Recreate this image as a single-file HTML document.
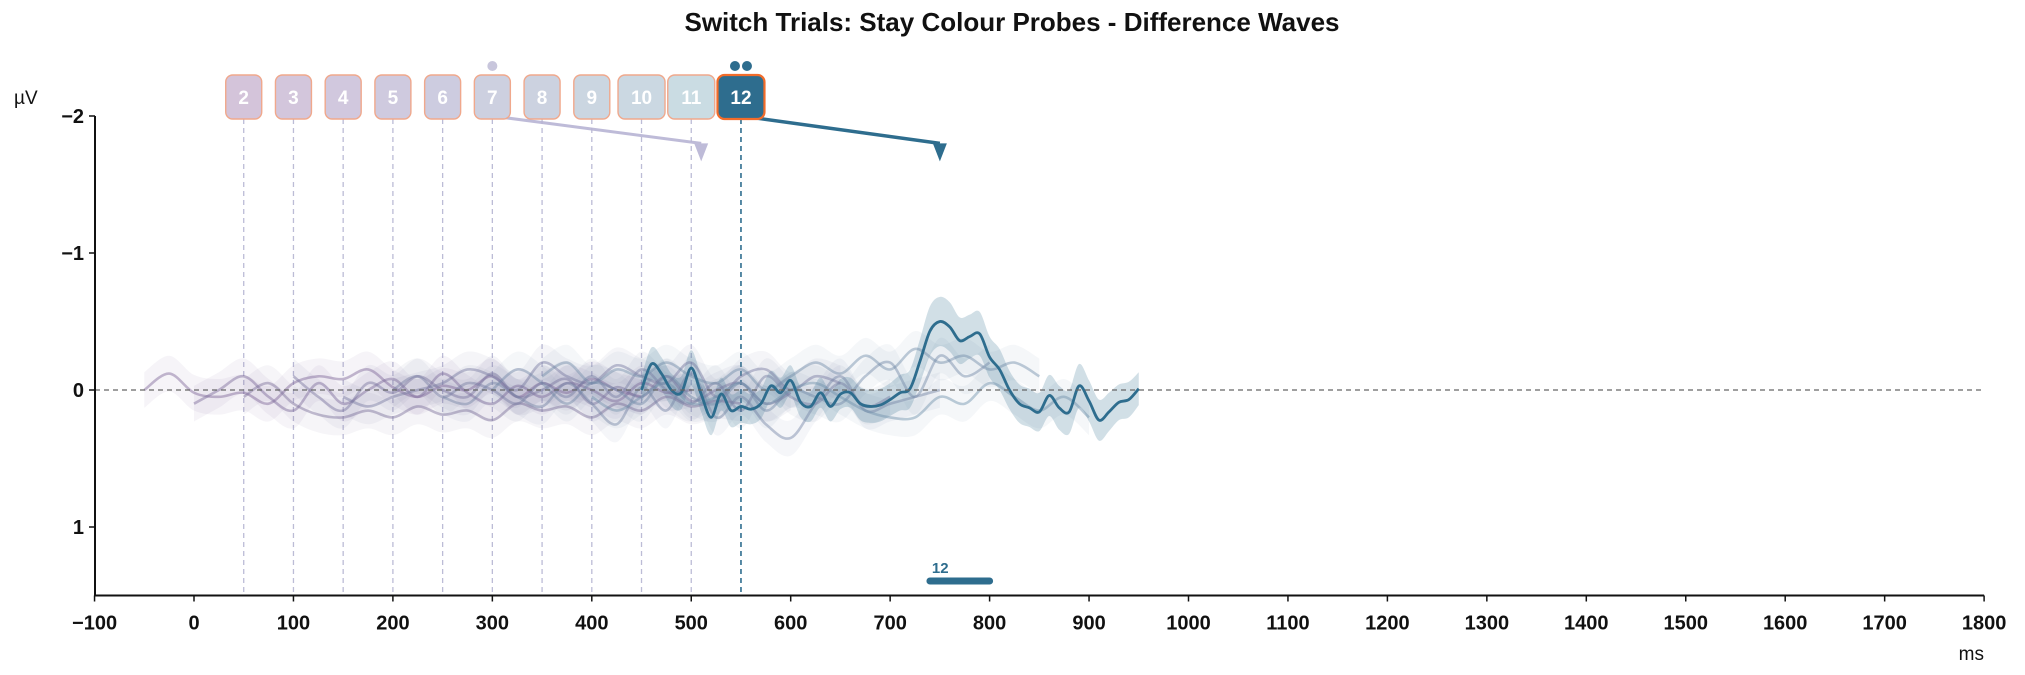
<!DOCTYPE html>
<html><head><meta charset="utf-8"><style>
html,body{margin:0;padding:0;background:#fff;}
svg{display:block;font-family:"Liberation Sans",Arial,sans-serif;}
</style></head><body>
<svg id="chart" width="2025" height="675" viewBox="0 0 2025 675" xmlns="http://www.w3.org/2000/svg">
<text x="1012" y="31" text-anchor="middle" font-size="26" font-weight="bold" fill="#111">Switch Trials: Stay Colour Probes - Difference Waves</text>
<g id="bands"></g><g id="lines"></g><g id="overlay"></g>
</svg>
<script>
const lags = [2,3,4,5,6,7,8,9,10,11,12];
const lagOnsets = [50,100,150,200,250,300,350,400,450,500,550];
const xTicks = [-100,0,100,200,300,400,500,600,700,800,900,1000,1100,1200,1300,1400,1500,1600,1700,1800];
const yTicks = [-2,-1,0,1];
const yTickLabels = ["\u22122","\u22121","0","1"];
// faint series (lags 2..11), 25 ms steps over 500 ms, starting at (lag-3)*50
const faint2 = [0.0,-0.12,0.02,0.05,0.02,0.1,-0.05,-0.1,-0.08,-0.15,-0.02,0.05,-0.03,0.0,-0.1,0.05,-0.05,0.02,-0.08,0.0,0.05];
const faint3 = [0.1,0.0,-0.1,0.05,0.15,-0.05,0.1,0.0,-0.08,0.05,-0.12,0.02,0.1,-0.03,0.05,-0.05,0.0,0.08,-0.05,0.02,0.0];
const faint4 = [0.05,-0.05,0.1,0.18,0.2,0.15,0.2,0.12,0.18,0.15,0.22,0.1,0.15,0.12,0.2,0.1,0.15,0.05,0.12,0.08,0.1];
const faint5 = [-0.1,0.05,0.15,-0.05,0.02,-0.1,0.0,0.05,-0.12,0.05,0.0,-0.08,0.1,-0.02,0.05,-0.1,0.08,0.0,-0.05,0.1,0.02];
const faint6 = [0.05,0.12,0.05,0.0,-0.05,-0.15,-0.1,0.0,-0.2,-0.1,-0.05,-0.18,-0.1,-0.05,-0.2,0.05,-0.1,-0.15,0.0,-0.1,-0.05];
const faint7 = [0.0,-0.1,0.05,-0.05,0.0,0.1,-0.05,0.05,-0.1,0.05,-0.15,0.0,0.1,-0.05,0.15,-0.1,0.05,0.1,-0.05,0.12,0.05];
const faint8 = [0.05,0.1,-0.05,0.05,0.12,-0.05,0.1,0.25,-0.02,0.15,-0.12,0.2,0.05,0.25,0.35,0.1,-0.1,0.15,0.1,0.05,0.0];
const faint9 = [0.0,-0.15,-0.05,0.1,-0.05,0.0,0.1,-0.1,0.05,0.1,-0.05,0.15,0.0,0.05,0.1,-0.1,-0.2,0.05,-0.25,-0.1,-0.2];
const faint10 = [-0.1,-0.2,-0.05,-0.15,-0.1,-0.2,-0.1,-0.05,-0.15,0.0,-0.1,-0.2,-0.12,-0.25,-0.15,-0.3,-0.2,-0.25,-0.15,-0.2,-0.1];
const faint11 = [0.05,0.15,0.05,-0.05,0.1,0.05,-0.05,0.1,0.0,-0.05,0.05,0.15,0.2,0.2,0.05,0.1,-0.05,0.05,0.15,0.05,0.2];
// dark lag-12 series, 10 ms steps 450..950
const lag12Values = [0,-0.19,-0.12,0,0.02,-0.16,0.03,0.2,0.03,0.15,0.12,0.14,0.1,-0.03,0.02,-0.07,0.09,0.12,0.02,0.12,0.03,0.02,0.1,0.12,0.11,0.07,0.02,-0.01,-0.21,-0.43,-0.5,-0.46,-0.36,-0.39,-0.41,-0.24,-0.15,0,0.1,0.13,0.16,0.04,0.13,0.16,-0.03,0.08,0.22,0.16,0.09,0.07,-0.01];
const lag12Sem = [0.1,0.12,0.12,0.12,0.12,0.13,0.13,0.13,0.12,0.12,0.12,0.11,0.11,0.11,0.11,0.11,0.11,0.11,0.11,0.11,0.11,0.11,0.12,0.12,0.12,0.12,0.13,0.14,0.16,0.18,0.18,0.18,0.17,0.16,0.16,0.15,0.15,0.14,0.14,0.14,0.14,0.15,0.16,0.16,0.16,0.15,0.15,0.14,0.13,0.13,0.12];
const sigStart = [740];
const sigEnd = [800];
const sigLabel = ["12"];
const faintSeries = [faint2,faint3,faint4,faint5,faint6,faint7,faint8,faint9,faint10,faint11];

const NS="http://www.w3.org/2000/svg";
const X0=194, XS=0.9945, Y0=390, YS=137;
const xs = t => X0 + t*XS;
const ys = v => Y0 + v*YS;
const svg=document.getElementById('chart');
const gB=document.getElementById('bands'), gL=document.getElementById('lines'), gO=document.getElementById('overlay');
function mk(tag, attrs, parent){const e=document.createElementNS(NS,tag);for(const k in attrs)e.setAttribute(k,attrs[k]);(parent||svg).appendChild(e);return e;}
function smooth(pts){let d=`M${pts[0][0]},${pts[0][1]}`;for(let i=0;i<pts.length-1;i++){const p0=pts[Math.max(0,i-1)],p1=pts[i],p2=pts[i+1],p3=pts[Math.min(pts.length-1,i+2)];d+=` C${p1[0]+(p2[0]-p0[0])/6},${p1[1]+(p2[1]-p0[1])/6} ${p2[0]-(p3[0]-p1[0])/6},${p2[1]-(p3[1]-p1[1])/6} ${p2[0]},${p2[1]}`;}return d;}
function mix(a,b,f){return a.map((v,i)=>Math.round(v+(b[i]-v)*f));}

const yAxis=mk('line',{x1:95,y1:ys(-2),x2:95,y2:ys(1.5),stroke:'#111','stroke-width':2});


const xAxis=mk('line',{x1:95,y1:ys(1.5),x2:xs(1800),y2:ys(1.5),stroke:'#111','stroke-width':2});


xTicks.forEach(t=>{
  mk('line',{x1:xs(t),y1:ys(1.5),x2:xs(t),y2:ys(1.5)+6,stroke:'#111','stroke-width':1.5});
  const tx=mk('text',{x:xs(t),y:ys(1.5)+34,'text-anchor':'middle','font-size':20,'font-weight':'bold',fill:'#111'});
  tx.textContent=(t<0?'\u2212'+(-t):t);
  
  
});
yTicks.forEach((v,i)=>{
  mk('line',{x1:89,y1:ys(v),x2:95,y2:ys(v),stroke:'#111','stroke-width':1.5});
  const tx=mk('text',{x:84,y:ys(v)+7,'text-anchor':'end','font-size':20,'font-weight':'bold',fill:'#111'});
  tx.textContent=yTickLabels[i];
  
  
});
const yl=mk('text',{x:14,y:104,'font-size':19,fill:'#111'});yl.textContent='\u00b5V';


const xl=mk('text',{x:1984,y:660,'text-anchor':'end','font-size':19,fill:'#111'});xl.textContent='ms';


const zl=mk('line',{x1:95,y1:ys(0),x2:xs(1800),y2:ys(0),stroke:'#666','stroke-width':1.3,'stroke-dasharray':'5,4'},gO);



lagOnsets.forEach((t,i)=>{
  const dark=i===lagOnsets.length-1;
  const l=mk('line',{x1:xs(t),y1:119,x2:xs(t),y2:ys(1.5),stroke:dark?'#2e6d8e':'#bcbcd6','stroke-width':dark?1.6:1.3,'stroke-dasharray':'5,4'},gB);
  
  
});

const cA=[125,100,150], cB=[110,145,170];
faintSeries.forEach((vals,si)=>{
  const start=(lags[si]-3)*50;
  const c=mix(cA,cB,si/9), col=`rgb(${c.join(',')})`;
  const pts=vals.map((v,i)=>[xs(start+i*25),ys(v)]);
  const up=vals.map((v,i)=>[xs(start+i*25),ys(v-0.13)]);
  const dn=vals.map((v,i)=>[xs(start+i*25),ys(v+0.13)]).reverse();
  const band=mk('path',{d:smooth(up)+' L'+smooth(dn).slice(1)+' Z',fill:col,'fill-opacity':0.07},gB);
  
  
  const ln=mk('path',{d:smooth(pts),fill:'none',stroke:col,'stroke-opacity':0.45,'stroke-width':2.6},gL);
  
  
});
{
  const pts=lag12Values.map((v,i)=>[xs(450+i*10),ys(v)]);
  const up=lag12Values.map((v,i)=>[xs(450+i*10),ys(v-lag12Sem[i])]);
  const dn=lag12Values.map((v,i)=>[xs(450+i*10),ys(v+lag12Sem[i])]).reverse();
  const band=mk('path',{d:smooth(up)+' L'+smooth(dn).slice(1)+' Z',fill:'#2e6d8e','fill-opacity':0.22},gB);
  
  
  const ln=mk('path',{d:smooth(pts),fill:'none',stroke:'#2e6d8e','stroke-width':2.8},gL);
  
  
}

function arrow(t0,t1,col,op,w,name){
  const g=mk('g',{opacity:op},gO);
  
  
  mk('line',{x1:xs(t0),y1:ys(-2),x2:xs(t1),y2:ys(-1.8),stroke:col,'stroke-width':w},g);
  const x=xs(t1),y=ys(-1.8);
  mk('path',{d:`M${x-7},${y} L${x+7},${y} L${x},${y+18} Z`,fill:col},g);
}
arrow(300,510,'#b8b4d4',0.9,3,'arrow-lag-7');
arrow(550,750,'#2e6d8e',1,3.5,'arrow-lag-12');

const boxFill=['#d4c4da','#d3c6dc','#d1c8de','#cfcadf','#cdcce0','#cdd0e0','#ccd2e0','#cbd6e1','#cbd8e2','#cadce3','#2e6d8e'];
lagOnsets.forEach((t,i)=>{
  const lab=String(lags[i]);const w=lab.length>1?47:36;const dark=i===lagOnsets.length-1;
  const g=mk('g',{},gO);
  
  
  mk('rect',{x:xs(t)-w/2,y:75,width:w,height:44,rx:7,fill:boxFill[i],stroke:dark?'#f26c2a':'#f0a88c','stroke-width':dark?2.2:1.4},g);
  const tx=mk('text',{x:xs(t),y:104,'text-anchor':'middle','font-size':19,'font-weight':'bold',fill:'#fff'},g);
  tx.textContent=lab;
});
const d1=mk('circle',{cx:xs(300),cy:66,r:5,fill:'#c8c6dc'},gO);


[-6,6].forEach(o=>{const d=mk('circle',{cx:xs(550)+o,cy:66,r:5,fill:'#2e6d8e'},gO);

});

sigStart.forEach((s,i)=>{
  const b=mk('line',{x1:xs(s),y1:581,x2:xs(sigEnd[i]),y2:581,stroke:'#2e6d8e','stroke-width':7,'stroke-linecap':'round'},gO);
  
  
  const t=mk('text',{x:xs(s)+2,y:573,'font-size':15,'font-weight':'bold',fill:'#2e6d8e'},gO);
  t.textContent=sigLabel[i];
  
  
});
</script>
</body></html>
